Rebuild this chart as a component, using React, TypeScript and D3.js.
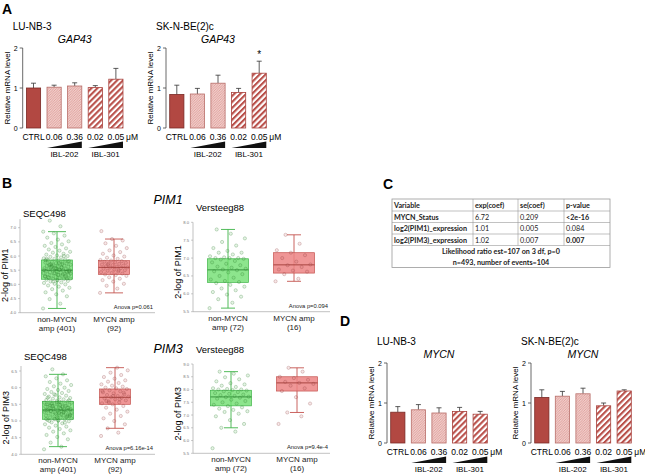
import * as d3 from "d3";

// ---- panel A / D bar data ----
const doses = ["CTRL", "0.06", "0.36", "0.02", "0.05"];
const barTicks = [0, 1, 2];
const gap43Lu = [1.0, 1.02, 1.05, 1.01, 1.22];
const gap43LuErr = [1.12, 1.07, 1.13, 1.06, 1.49];
const gap43Sk = [0.84, 0.85, 1.12, 0.89, 1.37];
const gap43SkErr = [1.07, 0.99, 1.32, 0.99, 1.67];
const mycnLu = [0.77, 0.83, 0.75, 0.79, 0.72];
const mycnLuErr = [0.91, 0.96, 0.88, 0.89, 0.79];
const mycnSk = [1.14, 1.17, 1.23, 0.93, 1.3];
const mycnSkErr = [1.33, 1.29, 1.37, 1.0, 1.33];

// ---- panel B box plot data ----
const groupNames = ["non-MYCN amp", "MYCN amp"];
const seqcLabels = [["non-MYCN", "amp (401)"], ["MYCN amp", "(92)"]];
const versteegLabels = [["non-MYCN", "amp (72)"], ["MYCN amp", "(16)"]];

// [q1, median, q3, whiskerLow, whiskerHigh]
const seqcPim1Stats = [[5.18, 5.5, 5.86, 4.15, 6.86], [5.35, 5.6, 5.84, 4.7, 6.6]];
const versteegPim1Stats = [[6.32, 6.67, 6.98, 5.6, 7.8], [6.58, 6.81, 7.15, 6.35, 7.65]];
const seqcPim3Stats = [[5.05, 5.33, 5.59, 4.23, 6.4], [5.5, 5.71, 5.96, 4.78, 6.6]];
const versteegPim3Stats = [[7.36, 7.71, 7.97, 6.5, 8.7], [7.94, 8.26, 8.5, 7.1, 8.85]];

const seqcPim1Non = [
  4.15, 4.32, 4.48, 4.58, 4.65, 4.72, 4.78, 4.83, 4.88, 4.92, 4.96, 5.0, 5.02, 5.05, 5.07, 5.1, 5.12, 5.14, 5.16, 5.18,
  5.19, 5.2, 5.22, 5.23, 5.25, 5.26, 5.28, 5.3, 5.31, 5.33, 5.34, 5.36, 5.37, 5.39, 5.4, 5.42, 5.43, 5.45, 5.46, 5.48,
  5.49, 5.5, 5.5, 5.51, 5.53, 5.54, 5.56, 5.57, 5.59, 5.6, 5.62, 5.63, 5.65, 5.66, 5.68, 5.69, 5.71, 5.72, 5.74, 5.75,
  5.77, 5.79, 5.8, 5.82, 5.84, 5.86, 5.88, 5.9, 5.92, 5.95, 5.97, 6.0, 6.02, 6.05, 6.08, 6.12, 6.15, 6.19, 6.23, 6.27,
  6.32, 6.36, 6.41, 6.46, 6.52, 6.58, 6.65, 6.72, 6.8, 6.86, 7.05, 7.25, 5.2, 5.55, 5.85, 5.35, 5.65, 5.45, 5.75, 5.25,
  5.3, 5.4, 5.5, 5.6, 5.7, 5.8, 5.15, 5.9, 6.0, 5.1, 5.38, 5.52, 5.68, 5.44, 5.58, 5.28, 5.72, 5.62, 5.48, 5.33,
];
const seqcPim1Amp = [
  4.7, 4.85, 4.95, 5.02, 5.1, 5.15, 5.2, 5.25, 5.3, 5.33, 5.35, 5.38, 5.4, 5.43, 5.45, 5.48, 5.5, 5.52, 5.55, 5.57,
  5.59, 5.6, 5.62, 5.64, 5.66, 5.68, 5.7, 5.72, 5.74, 5.76, 5.78, 5.8, 5.82, 5.84, 5.86, 5.9, 5.94, 5.98, 6.02, 6.08,
  6.14, 6.2, 6.28, 6.36, 6.45, 6.55, 6.6, 6.88, 5.5, 5.7,
];
const versteegPim1Non = [
  5.6, 5.75, 5.85, 5.92, 5.98, 6.05, 6.1, 6.15, 6.2, 6.25, 6.3, 6.33, 6.36, 6.4, 6.45, 6.5, 6.55, 6.6, 6.63, 6.66,
  6.68, 6.7, 6.73, 6.76, 6.8, 6.84, 6.88, 6.92, 6.96, 6.98, 7.0, 7.0, 7.0, 7.02, 7.05, 7.1, 7.15, 7.15, 7.2, 7.28,
  7.35, 7.45, 7.55, 7.68, 7.8,
];
const versteegPim1Amp = [6.35, 6.42, 6.55, 6.62, 6.65, 6.68, 6.75, 6.8, 6.82, 6.9, 7.0, 7.08, 7.15, 7.22, 7.4, 7.65];
const seqcPim3Non = [
  4.15, 4.23, 4.35, 4.45, 4.52, 4.58, 4.63, 4.68, 4.72, 4.76, 4.8, 4.83, 4.86, 4.9, 4.93, 4.96, 4.99, 5.01, 5.03, 5.05,
  5.07, 5.08, 5.1, 5.11, 5.13, 5.14, 5.16, 5.17, 5.19, 5.2, 5.22, 5.23, 5.25, 5.26, 5.27, 5.29, 5.3, 5.31, 5.32, 5.33,
  5.34, 5.35, 5.36, 5.38, 5.39, 5.4, 5.42, 5.43, 5.45, 5.46, 5.48, 5.49, 5.5, 5.52, 5.53, 5.55, 5.56, 5.58, 5.59, 5.61,
  5.63, 5.65, 5.67, 5.69, 5.71, 5.73, 5.76, 5.78, 5.81, 5.84, 5.87, 5.9, 5.93, 5.96, 6.0, 6.04, 6.08, 6.12, 6.17, 6.22,
  6.28, 6.34, 6.4, 6.55, 5.15, 5.25, 5.35, 5.45, 5.05, 5.55, 5.2, 5.3, 5.4, 5.1, 5.5, 5.28, 5.38, 5.18, 5.48, 5.0,
  5.12, 5.22, 5.32, 5.42, 5.52, 5.62, 5.02, 5.7, 4.95, 5.8, 5.24, 5.36, 5.46, 5.16, 5.56, 5.06, 5.26, 5.44, 5.34, 5.58,
];
const seqcPim3Amp = [
  4.55, 4.65, 4.78, 4.9, 5.0, 5.08, 5.15, 5.22, 5.28, 5.34, 5.4, 5.45, 5.5, 5.53, 5.56, 5.59, 5.62, 5.65, 5.68, 5.7,
  5.71, 5.73, 5.75, 5.78, 5.8, 5.83, 5.86, 5.89, 5.92, 5.96, 5.98, 6.0, 6.03, 6.06, 6.1, 6.14, 6.18, 6.22, 6.27, 6.32,
  6.38, 6.45, 6.52, 6.6, 5.6, 5.85, 5.75, 5.9, 5.65, 5.55,
];
const versteegPim3Non = [
  5.7, 6.35, 6.5, 6.65, 6.8, 6.95, 7.05, 7.12, 7.15, 7.2, 7.25, 7.3, 7.35, 7.4, 7.45, 7.5, 7.55, 7.6, 7.64, 7.68,
  7.7, 7.72, 7.75, 7.78, 7.8, 7.83, 7.86, 7.9, 7.93, 7.96, 7.98, 8.0, 8.0, 8.02, 8.05, 8.1, 8.15, 8.2, 8.25, 8.32,
  8.4, 8.48, 8.55, 8.62, 8.7,
];
const versteegPim3Amp = [6.65, 6.95, 7.1, 7.45, 7.7, 7.94, 8.05, 8.15, 8.22, 8.26, 8.3, 8.38, 8.45, 8.5, 8.7, 8.85];

// ---- panel C table ----
const tableHeader = ["Variable", "exp(coef)", "se(coef)", "p-value"];
const tableVars = ["MYCN_Status", "log2(PIM1)_expression", "log2(PIM3)_expression"];
const tableExp = ["6.72", "1.01", "1.02"];
const tableSe = ["0.209", "0.005", "0.007"];
const tablePval = ["<2e-16", "0.084", "0.007"];
const tablePvalBold = [true, false, true];
const tableFooter = ["Likelihood ratio est=107 on 3 df, p=0", "n=493, number of events=104"];

const FONT = "'Liberation Sans', Arial, sans-serif";
const BAR_FILLS = ["#b24842", "url(#dots)", "url(#dots)", "url(#stripes)", "url(#stripes)"];
const BAR_STROKES = ["#7a2a26", "#b86e69", "#b86e69", "#a8403b", "#a8403b"];

function BarChart({ ax, top, cell, gene, values, errs, star }) {
  const y = d3.scaleLinear().domain([0, 2]).range([top + 80, top]);
  const x = d3.scaleBand().domain(doses).range([ax, ax + 104]).paddingInner(0.31).paddingOuter(0.18);
  const bw = x.bandwidth();
  const wedges = [
    { from: "0.06", to: "0.36", label: "IBL-202" },
    { from: "0.02", to: "0.05", label: "IBL-301" },
  ];
  return (
    <g fontFamily={FONT}>
      <text x={ax - 10} y={top - 18} fontSize={10}>{cell}</text>
      <text x={ax + 52} y={top - 5} fontSize={10.5} fontStyle="italic" textAnchor="middle">{gene}</text>
      <text transform={`translate(${ax - 13},${top + 40}) rotate(-90)`} fontSize={8} textAnchor="middle">
        Relative mRNA level
      </text>
      <line x1={ax} x2={ax} y1={y(0)} y2={y(2)} stroke="#444" strokeWidth={0.8} />
      {barTicks.map((t) => (
        <g key={t}>
          <line x1={ax - 3} x2={ax} y1={y(t)} y2={y(t)} stroke="#444" strokeWidth={0.8} />
          <text x={ax - 5} y={y(t) + 2.5} fontSize={7} textAnchor="end">{t}</text>
        </g>
      ))}
      {values.map((v, i) => {
        const cx = x(doses[i]) + bw / 2;
        return (
          <g key={i}>
            <line x1={cx} x2={cx} y1={y(v)} y2={y(errs[i])} stroke="#333" strokeWidth={0.8} />
            <line x1={cx - 2.5} x2={cx + 2.5} y1={y(errs[i])} y2={y(errs[i])} stroke="#333" strokeWidth={0.8} />
            <rect x={x(doses[i])} y={y(v)} width={bw} height={y(0) - y(v)}
              fill={BAR_FILLS[i]} stroke={BAR_STROKES[i]} strokeWidth={0.8} />
            <text x={cx} y={top + 92} fontSize={8.5} textAnchor="middle">{doses[i]}</text>
          </g>
        );
      })}
      {star && (
        <text x={x("0.05") + bw / 2} y={y(errs[4]) - 3} fontSize={10} textAnchor="middle">*</text>
      )}
      <text x={x("0.05") + bw + 3} y={top + 92} fontSize={8.5}>μM</text>
      {wedges.map((w) => {
        const x0 = x(w.from);
        const x1 = x(w.to) + bw;
        const b = top + 100;
        return (
          <g key={w.label}>
            <path d={`M${x0},${b}L${x1},${b - 6.5}L${x1},${b}Z`} fill="#111" />
            <text x={(x0 + x1) / 2} y={top + 109} fontSize={8} textAnchor="middle">{w.label}</text>
          </g>
        );
      })}
    </g>
  );
}

const GREEN = { fill: "rgba(112,222,112,0.8)", stroke: "#3fb448", med: "#2f8a35", pt: "rgba(40,120,40,0.5)", ptFill: "rgba(90,180,90,0.15)" };
const RED = { fill: "rgba(236,132,132,0.85)", stroke: "#c4534f", med: "#a23c38", pt: "rgba(140,60,60,0.5)", ptFill: "rgba(200,100,100,0.15)" };

function BoxPlot({ ax, right, bottom, lo, hi, top, tickStep, axisMax, title, ylab, c0, c1, bw, cap, stats, points, labels, anova }) {
  const y = d3.scaleLinear().domain([lo, hi]).range([bottom, top]);
  const x = d3.scalePoint().domain(groupNames).range([ax + c0, ax + c1]);
  const ticks = d3.range(lo, hi + 1e-6, tickStep);
  const cols = [GREEN, RED];
  return (
    <g fontFamily={FONT}>
      <text x={ax + 3} y={top - 11} fontSize={9.5}>{title}</text>
      <text transform={`translate(${ax - 12},${(top + bottom) / 2 + 5}) rotate(-90)`} fontSize={9} textAnchor="middle">
        {ylab}
      </text>
      <line x1={ax} x2={ax} y1={bottom} y2={y(axisMax)} stroke="#999" strokeWidth={0.6} />
      <line x1={ax} x2={right} y1={bottom} y2={bottom} stroke="#999" strokeWidth={0.6} />
      {ticks.map((t) => (
        <g key={t}>
          <line x1={ax - 2} x2={ax} y1={y(t)} y2={y(t)} stroke="#999" strokeWidth={0.5} />
          <text x={ax - 4} y={y(t) + 1.5} fontSize={4.2} fill="#777" textAnchor="end">{t.toFixed(1)}</text>
        </g>
      ))}
      {groupNames.map((g, gi) => {
        const [q1, med, q3, wl, wh] = stats[gi];
        const cx = x(g);
        const c = cols[gi];
        return (
          <g key={g}>
            <line x1={cx} x2={cx} y1={y(wl)} y2={y(wh)} stroke={c.stroke} strokeWidth={0.9} />
            <line x1={cx - cap / 2} x2={cx + cap / 2} y1={y(wl)} y2={y(wl)} stroke={c.stroke} strokeWidth={0.9} />
            <line x1={cx - cap / 2} x2={cx + cap / 2} y1={y(wh)} y2={y(wh)} stroke={c.stroke} strokeWidth={0.9} />
            <rect x={cx - bw / 2} y={y(q3)} width={bw} height={y(q1) - y(q3)} fill={c.fill} stroke={c.stroke} strokeWidth={0.7} />
            <line x1={cx - bw / 2} x2={cx + bw / 2} y1={y(med)} y2={y(med)} stroke={c.med} strokeWidth={0.9} />
            {points[gi].map((v, i) => (
              <circle key={i} cx={cx + (((i * 0.6180339887) % 1) - 0.5) * bw * 0.9} cy={y(v)} r={1.6}
                fill={c.ptFill} stroke={c.pt} strokeWidth={0.5} />
            ))}
            <text x={cx} y={bottom + 9} fontSize={8} textAnchor="middle" fill="#222">{labels[gi][0]}</text>
            <text x={cx} y={bottom + 18} fontSize={8} textAnchor="middle" fill="#222">{labels[gi][1]}</text>
          </g>
        );
      })}
      <text x={right - 2} y={bottom - 4} fontSize={5.8} textAnchor="end" fill="#222">{anova}</text>
    </g>
  );
}

function Table() {
  const xs = [392, 473, 518, 564, 610];
  const ys = [199, 211, 222.5, 234, 245.5, 256.5, 267.5];
  const rows = tableVars.map((v, i) => [v, tableExp[i], tableSe[i], tablePval[i]]);
  const tf = "Lato, 'Open Sans', sans-serif";
  return (
    <g fontFamily={tf} fontSize={7.2} fill="#222">
      <rect x={xs[0]} y={ys[0]} width={xs[4] - xs[0]} height={ys[6] - ys[0]} fill="none" stroke="#999" strokeWidth={0.8} />
      {ys.slice(1, 5).map((yy) => (
        <line key={yy} x1={xs[0]} x2={xs[4]} y1={yy} y2={yy} stroke="#999" strokeWidth={0.6} />
      ))}
      {xs.slice(1, 4).map((xx) => (
        <line key={xx} x1={xx} x2={xx} y1={ys[0]} y2={ys[4]} stroke="#999" strokeWidth={0.6} />
      ))}
      {tableHeader.map((h, i) => (
        <text key={h} x={xs[i] + 2} y={ys[0] + 8.6} fontWeight="bold">{h}</text>
      ))}
      {rows.map((r, ri) =>
        r.map((cell, ci) => (
          <text key={ri + "-" + ci} x={xs[ci] + 2} y={ys[ri + 1] + 8.6}
            fontWeight={ci === 0 || (ci === 3 && tablePvalBold[ri]) ? "bold" : "normal"}>
            {cell}
          </text>
        ))
      )}
      {tableFooter.map((f, i) => (
        <text key={f} x={(xs[0] + xs[4]) / 2} y={ys[4 + i] + 8.4} textAnchor="middle" fontWeight="bold">{f}</text>
      ))}
    </g>
  );
}

export default function App() {
  return (
    <svg width={645} height={475} style={{ position: "absolute", left: 0, top: 0, background: "#fff" }}>
      <defs>
        <pattern id="dots" width={2.5} height={2.5} patternUnits="userSpaceOnUse">
          <rect width={2.5} height={2.5} fill="#f1cbc8" />
          <path d="M0,2.5L2.5,0" stroke="#d6948f" strokeWidth={0.7} />
        </pattern>
        <pattern id="stripes" width={4.2} height={4.2} patternUnits="userSpaceOnUse" patternTransform="rotate(45)">
          <rect width={4.2} height={4.2} fill="#fff" />
          <rect width={2.1} height={4.2} fill="#b9504a" />
        </pattern>
      </defs>
      <g fontFamily={FONT} fontWeight="bold" fontSize={14}>
        <text x={2} y={14}>A</text>
        <text x={2} y={188}>B</text>
        <text x={383} y={189}>C</text>
        <text x={340} y={326}>D</text>
      </g>

      <BarChart ax={22.7} top={48} cell="LU-NB-3" gene="GAP43" values={gap43Lu} errs={gap43LuErr} />
      <BarChart ax={166} top={48} cell="SK-N-BE(2)c" gene="GAP43" values={gap43Sk} errs={gap43SkErr} star />
      <BarChart ax={387} top={363} cell="LU-NB-3" gene="MYCN" values={mycnLu} errs={mycnLuErr} />
      <BarChart ax={531} top={363} cell="SK-N-BE(2)c" gene="MYCN" values={mycnSk} errs={mycnSkErr} />

      <text x={168} y={204} fontFamily={FONT} fontSize={12.5} fontStyle="italic" textAnchor="middle">PIM1</text>
      <text x={168} y={353} fontFamily={FONT} fontSize={12.5} fontStyle="italic" textAnchor="middle">PIM3</text>

      <BoxPlot ax={20} right={155} bottom={312.7} lo={4.0} hi={7.0} top={227.7} tickStep={0.5} axisMax={7.3}
        title="SEQC498" ylab="2-log of PIM1" c0={37} c1={94} bw={31} cap={18}
        stats={seqcPim1Stats} points={[seqcPim1Non, seqcPim1Amp]} labels={seqcLabels} anova="Anova p=0.061" />
      <BoxPlot ax={193} right={330} bottom={311.7} lo={5.5} hi={8.0} top={222.3} tickStep={0.5} axisMax={8.0}
        title="Versteeg88" ylab="2-log of PIM1" c0={35} c1={101} bw={41} cap={14}
        stats={versteegPim1Stats} points={[versteegPim1Non, versteegPim1Amp]} labels={versteegLabels} anova="Anova p=0.094" />
      <BoxPlot ax={21} right={155} bottom={454.3} lo={4.0} hi={6.5} top={371} tickStep={0.5} axisMax={6.65}
        title="SEQC498" ylab="2-log of PIM3" c0={37} c1={94} bw={31} cap={18}
        stats={seqcPim3Stats} points={[seqcPim3Non, seqcPim3Amp]} labels={seqcLabels} anova="Anova p=6.16e-14" />
      <BoxPlot ax={193} right={330} bottom={453.3} lo={5.5} hi={9.0} top={364} tickStep={0.5} axisMax={9.0}
        title="Versteeg88" ylab="2-log of PIM3" c0={38} c1={104} bw={41} cap={14}
        stats={versteegPim3Stats} points={[versteegPim3Non, versteegPim3Amp]} labels={versteegLabels} anova="Anova p=9.4e-4" />

      <Table />
    </svg>
  );
}
